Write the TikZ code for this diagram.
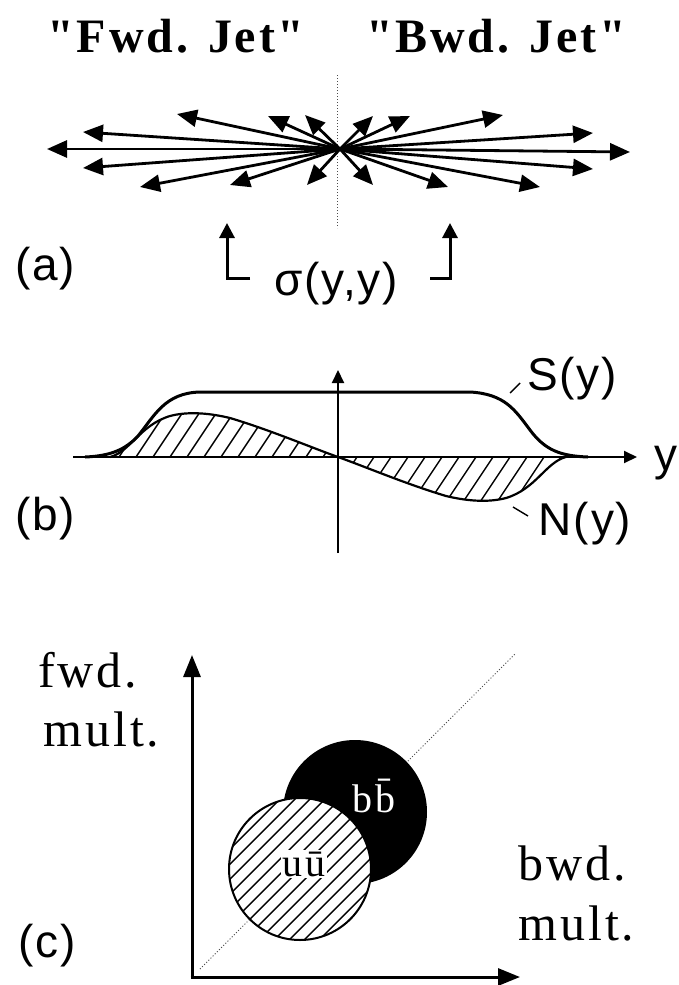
\documentclass[tikz,border=0pt]{standalone}
\usepackage{fontspec}
\setmainfont{Liberation Serif}
\newfontfamily\sansf[LetterSpace=4]{Liberation Sans}
\newfontfamily\serifsp[LetterSpace=6]{Liberation Serif}
\usetikzlibrary{arrows.meta}
\begin{document}
\begin{tikzpicture}[x=1pt,y=-1pt,
  jet/.style={line width=2.8pt,-{Triangle[length=20pt,width=17pt]}},
  axisb/.style={line width=2pt,-{Triangle[length=13pt,width=12pt]}},
  axisc/.style={line width=3pt,-{Triangle[length=22pt,width=17pt]}},
  brk/.style={line width=3pt,-{Triangle[length=15pt,width=15pt]}},
  lbl/.style={font=\sansf\fontsize{46}{46}\selectfont,inner sep=0pt,anchor=base},
  sern/.style={font=\serifsp\fontsize{50}{52}\selectfont,inner sep=0pt,anchor=base west},
  ttl/.style={font=\serifsp\bfseries\fontsize{48}{48}\selectfont,inner sep=0pt,anchor=base},
  qq/.style={font=\serifsp\fontsize{40}{40}\selectfont,inner sep=1.5pt},
  hatch/.style={line width=1.4pt},
  dotl/.style={line width=1pt,dotted,black!70}]
\useasboundingbox (0,0) rectangle (679,985);

% ---------------- panel (a)
\node[ttl] (fwd) at (176,52) {"Fwd. Jet"};
\node[ttl] (bwd) at (496,52) {"Bwd. Jet"};
\coordinate (dtop) at (337,75);
\coordinate (dbot) at (337,228);
\draw[dotl] (dtop) -- (dbot);
\coordinate (o) at (340,149);
\foreach \n/\x/\y in {L1/47/149,L2/83/132,L3/83/168,L4/140/187,L5/177/114,L6/230/185,L7/268/116,L8/305/115,L9/307/185,
                       R1/373/116,R2/410/116,R3/503/115,R4/593/133,R5/630/152,R6/593/169,R7/540/187,R8/448/187,R9/373/185}{
  \coordinate (\n) at (\x,\y);
  \draw[jet] (o) -- (\n);
}
\node[lbl] (la) at (45,280) {(a)};
\node[lbl] (sig) at (336,295) {σ(y,y)};
\coordinate (lb0) at (250,278);
\coordinate (lb1) at (227,278);
\coordinate (lb2) at (227,223);
\draw[brk] (lb0) -- (lb1) -- (lb2);
\coordinate (rb0) at (430,278);
\coordinate (rb1) at (450,278);
\coordinate (rb2) at (450,223);
\draw[brk] (rb0) -- (rb1) -- (rb2);

% ---------------- panel (b)
\begin{scope}
\clip (110,457) .. controls (130,452) and (140,425) .. (170,416)
  .. controls (185,412) and (205,412) .. (230,418)
  .. controls (270,430) and (310,447) .. (338,457)
  .. controls (366,467) and (406,484) .. (446,496)
  .. controls (471,502) and (491,502) .. (506,498)
  .. controls (536,489) and (546,462) .. (566,457) -- cycle;
\foreach \k in {0,...,36}{
  \draw[hatch] (60+17*\k,520) -- (60+17*\k+88,388);
}
\end{scope}
\draw[line width=2.2pt] (110,457) .. controls (130,452) and (140,425) .. (170,416)
  .. controls (185,412) and (205,412) .. (230,418)
  .. controls (270,430) and (310,447) .. (338,457)
  .. controls (366,467) and (406,484) .. (446,496)
  .. controls (471,502) and (491,502) .. (506,498)
  .. controls (536,489) and (546,462) .. (566,457);
\coordinate (xb0) at (73,457);
\coordinate (xb1) at (637,457);
\draw[axisb] (xb0) -- (xb1);
\coordinate (yb0) at (338,553);
\coordinate (yb1) at (338,370);
\draw[axisb] (yb0) -- (yb1);
\draw[line width=3pt,line join=round] (85,457) .. controls (110,456) and (125,450) .. (138,436)
  .. controls (155,415) and (165,393) .. (200,392) -- (470,392)
  .. controls (505,394) and (515,410) .. (530,430)
  .. controls (545,450) and (560,456) .. (588,457);
\node[lbl] (ylab) at (666,470) {y};
\node[lbl] (lb) at (45,530) {(b)};
\node[lbl] (sy) at (572,390) {S(y)};
\node[lbl] (ny) at (585,535) {N(y)};
\coordinate (sp0) at (510,393);
\coordinate (sp1) at (520,383);
\draw[line width=1.4pt] (sp0) -- (sp1);
\coordinate (np0) at (513,507);
\coordinate (np1) at (528,516);
\draw[line width=1.4pt] (np0) -- (np1);

% ---------------- panel (c)
\coordinate (oc) at (192,977);
\coordinate (diag0) at (200,969);
\coordinate (diag1) at (515,654);
\draw[dotl] (diag0) -- (diag1);
\coordinate (cb) at (355,812);
\coordinate (cu) at (300,869);
\fill[black] (cb) circle[radius=72];
\fill[white] (cu) circle[radius=71];
\begin{scope}
\clip (cu) circle[radius=71];
\foreach \k in {-12,...,12}{
  \draw[hatch] (300+15*\k-90,959) -- (300+15*\k+90,779);
}
\end{scope}
\draw[line width=2pt] (cu) circle[radius=71];
\node[qq,text=white] (bb) at (374,796) {bb̄};
\node[qq,fill=white] (uu) at (304,864) {uū};
\coordinate (yc1) at (192,655);
\coordinate (xc1) at (520,977);
\draw[axisc] ([yshift=1.5pt]oc) -- (yc1);
\draw[axisc] ([xshift=-1.5pt]oc) -- (xc1);
\node[sern] (fw1) at (38,687) {fwd.};
\node[sern] (fw2) at (43,746) {mult.};
\node[sern] (bw1) at (518,880) {bwd.};
\node[sern] (bw2) at (518,940) {mult.};
\node[lbl] (lc) at (47,957) {(c)};
\end{tikzpicture}
\end{document}
